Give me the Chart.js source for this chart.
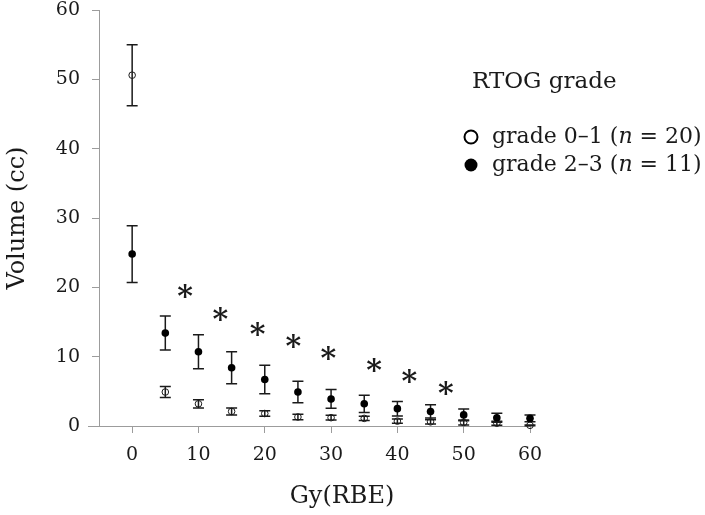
<!DOCTYPE html>
<html lang="en">
<head>
<meta charset="UTF-8">
<title>Volume by dose – RTOG grade</title>
<script src="https://cdn.jsdelivr.net/npm/chart.js@4.4.0/dist/chart.umd.min.js"></script>
<style>
  html, body { margin: 0; padding: 0; background: #fff; }
  #wrap { width: 705px; height: 515px; }
</style>
</head>
<body>
<div id="wrap"><canvas id="chart" width="705" height="515"></canvas></div>
<script>
// ── Data ─────────────────────────────────────────────────────────────────────
const doses = [0, 5, 10, 15, 20, 25, 30, 35, 40, 45, 50, 55, 60];

const grade01Mean = [50.6, 4.9, 3.2, 2.1, 1.8, 1.3, 1.2, 1.1, 0.7, 0.6, 0.5, 0.4, 0.1];
const grade01Err  = [4.4, 0.8, 0.6, 0.5, 0.4, 0.4, 0.35, 0.3, 0.3, 0.3, 0.35, 0.3, 0.05];

const grade23Mean = [24.8, 13.4, 10.7, 8.4, 6.7, 4.9, 3.9, 3.2, 2.5, 2.1, 1.6, 1.2, 1.1];
const grade23Err  = [4.1, 2.45, 2.45, 2.3, 2.05, 1.55, 1.35, 1.25, 1.05, 0.95, 0.85, 0.65, 0.5];

// significance marks (*) placed between the dose points
const sigX = [8.0, 13.3, 18.9, 24.3, 29.6, 36.5, 41.8, 47.3];
const sigY = [19.4, 16.1, 14.0, 12.2, 10.5, 8.8, 7.2, 5.5];

const xTicks = [0, 10, 20, 30, 40, 50, 60];
const yTicks = [0, 10, 20, 30, 40, 50, 60];

// ── Style ────────────────────────────────────────────────────────────────────
const SERIF = "'DejaVu Serif', 'Liberation Serif', serif";
const INK = "#1a1a1a";
const AXIS = "#9c9c9c";

const toPoints = (xs, ys) => xs.map((x, i) => ({ x, y: ys[i] }));

// ── Plugins ──────────────────────────────────────────────────────────────────
// vertical error bars with caps, drawn under the markers
const errorBars = {
  id: "errorBars",
  beforeDatasetsDraw(chart) {
    const { ctx, scales: { x, y } } = chart;
    const sets = [[grade23Mean, grade23Err], [grade01Mean, grade01Err]];
    ctx.save();
    ctx.strokeStyle = INK;
    ctx.lineWidth = 1.5;
    for (const [mean, err] of sets) {
      doses.forEach((d, i) => {
        const px = x.getPixelForValue(d);
        const top = y.getPixelForValue(mean[i] + err[i]);
        const bot = y.getPixelForValue(mean[i] - err[i]);
        ctx.beginPath();
        ctx.moveTo(px, top); ctx.lineTo(px, bot);
        ctx.moveTo(px - 5.5, top); ctx.lineTo(px + 5.5, top);
        ctx.moveTo(px - 5.5, bot); ctx.lineTo(px + 5.5, bot);
        ctx.stroke();
      });
    }
    ctx.restore();
  }
};

// asterisks, the left stub of the x axis, x title and the legend
const decorations = {
  id: "decorations",
  afterDraw(chart) {
    const { ctx, chartArea, scales: { x, y } } = chart;
    ctx.save();

    // x axis line runs a little past the y axis
    const ay = Math.floor(chartArea.bottom) + 0.5;
    ctx.strokeStyle = AXIS;
    ctx.lineWidth = 1;
    ctx.beginPath();
    ctx.moveTo(88, ay); ctx.lineTo(chartArea.left, ay);
    ctx.stroke();

    // asterisks
    ctx.fillStyle = INK;
    ctx.font = `bold 30px ${SERIF}`;
    ctx.textAlign = "center";
    ctx.textBaseline = "alphabetic";
    const m = ctx.measureText("*");
    const shift = (m.actualBoundingBoxAscent - m.actualBoundingBoxDescent) / 2;
    sigX.forEach((sx, i) => {
      ctx.fillText("*", x.getPixelForValue(sx), y.getPixelForValue(sigY[i]) + shift);
    });

    // x axis title
    ctx.textBaseline = "middle";
    ctx.font = `24px ${SERIF}`;
    ctx.fillText("Gy(RBE)", 342, 497);

    // legend
    ctx.textAlign = "left";
    ctx.font = `23px ${SERIF}`;
    ctx.fillText("RTOG grade", 472, 82);

    const rows = [
      { y: 137, filled: false, pre: "grade 0\u20131 (", post: " = 20)" },
      { y: 165, filled: true,  pre: "grade 2\u20133 (", post: " = 11)" }
    ];
    for (const r of rows) {
      ctx.beginPath();
      ctx.arc(471, r.y, 6.5, 0, Math.PI * 2);
      if (r.filled) { ctx.fillStyle = "#000"; ctx.fill(); }
      else { ctx.strokeStyle = "#000"; ctx.lineWidth = 2; ctx.stroke(); }

      ctx.fillStyle = INK;
      let tx = 492;
      ctx.font = `22px ${SERIF}`;
      ctx.fillText(r.pre, tx, r.y);
      tx += ctx.measureText(r.pre).width;
      ctx.font = `italic 22px ${SERIF}`;
      ctx.fillText("n", tx, r.y);
      tx += ctx.measureText("n").width;
      ctx.font = `22px ${SERIF}`;
      ctx.fillText(r.post, tx, r.y);
    }
    ctx.restore();
  }
};

// ── Chart ────────────────────────────────────────────────────────────────────
new Chart(document.getElementById("chart"), {
  type: "scatter",
  data: {
    datasets: [
      {
        label: "grade 2–3 (n = 11)",
        data: toPoints(doses, grade23Mean),
        pointRadius: 3.8,
        pointHoverRadius: 3.8,
        backgroundColor: "#000",
        borderColor: "#000",
        borderWidth: 0,
        clip: false
      },
      {
        label: "grade 0–1 (n = 20)",
        data: toPoints(doses, grade01Mean),
        pointRadius: 3.3,
        pointHoverRadius: 3.3,
        backgroundColor: "rgba(255,255,255,0)",
        borderColor: INK,
        borderWidth: 1,
        clip: false
      }
    ]
  },
  options: {
    responsive: false,
    animation: false,
    events: [],
    layout: { padding: { top: 0, right: 175, left: 0, bottom: 0 } },
    plugins: {
      legend: { display: false },
      tooltip: { enabled: false }
    },
    scales: {
      x: {
        type: "linear",
        min: -5,
        max: 60,
        afterBuildTicks: (s) => { s.ticks = xTicks.map((v) => ({ value: v })); },
        afterFit: (s) => { s.height = 89; },
        grid: { drawOnChartArea: false, tickLength: 7, color: AXIS },
        border: { color: AXIS, width: 1 },
        ticks: { font: { family: SERIF, size: 19 }, color: INK, padding: 11, maxRotation: 0 },
        title: { display: false }
      },
      y: {
        min: 0,
        max: 60,
        afterBuildTicks: (s) => { s.ticks = yTicks.map((v) => ({ value: v })); },
        afterFit: (s) => { s.width = 99; s.paddingTop = 10; },
        grid: { drawOnChartArea: false, tickLength: 7, color: AXIS },
        border: { color: AXIS, width: 1 },
        ticks: { font: { family: SERIF, size: 19 }, color: INK, padding: 12 },
        title: {
          display: true,
          text: "Volume (cc)",
          color: INK,
          font: { family: SERIF, size: 24 },
          padding: { top: 3, bottom: 0 }
        }
      }
    }
  },
  plugins: [errorBars, decorations]
});
</script>
</body>
</html>
